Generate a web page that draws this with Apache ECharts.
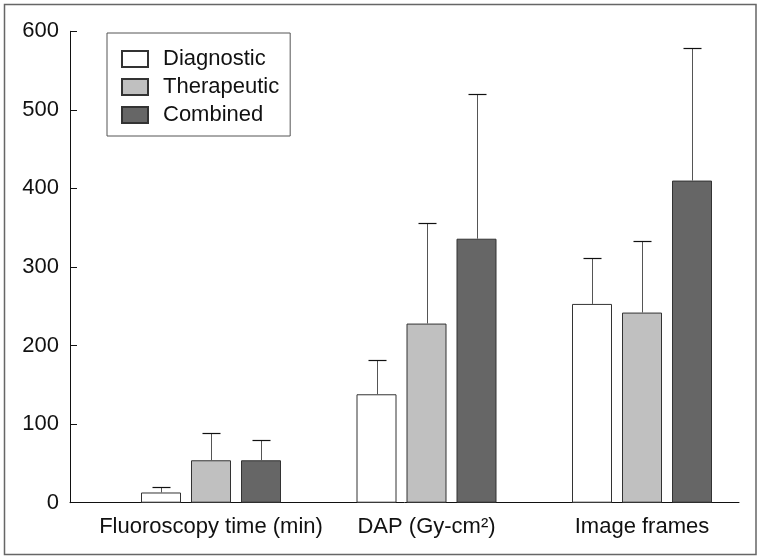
<!DOCTYPE html>
<html>
<head>
<meta charset="utf-8">
<script src="https://cdn.jsdelivr.net/npm/echarts@6/dist/echarts.min.js"></script>
<style>
html,body{margin:0;padding:0;background:#fff;}
#chart{width:762px;height:560px;}
</style>
</head>
<body>
<div id="chart"></div>
<script>
const categories = ['Fluoroscopy time (min)', 'DAP (Gy-cm\u00B2)', 'Image frames'];
const seriesNames = ['Diagnostic', 'Therapeutic', 'Combined'];
const diagnosticMean = [13, 138, 253];
const diagnosticSD = [7, 43, 58];
const therapeuticMean = [54, 228, 242];
const therapeuticSD = [35, 128, 91];
const combinedMean = [54, 336, 410];
const combinedSD = [26, 184, 169];
const yTicks = [0, 100, 200, 300, 400, 500, 600];

const means = [diagnosticMean, therapeuticMean, combinedMean];
const sds = [diagnosticSD, therapeuticSD, combinedSD];
const fills = ['#ffffff', '#c0c0c0', '#666666'];

const FONT = 'Liberation Sans';
const BAR_W = 40;
const BAR_GAP = 0.25;
const TOP = 31.3, BOTTOM = 560 - 502.7;

const chart = echarts.init(document.getElementById('chart'));

const barSeries = seriesNames.map((name, s) => ({
  name: name,
  type: 'bar',
  xAxisIndex: 1,
  yAxisIndex: 1,
  barWidth: BAR_W,
  barGap: (BAR_GAP * 100) + '%',
  itemStyle: { color: fills[s], borderColor: '#333', borderWidth: 1 },
  emphasis: { disabled: true },
  data: means[s],
  z: 2
}));

const errSeries = seriesNames.map((name, s) => ({
  type: 'custom',
  xAxisIndex: 1,
  yAxisIndex: 1,
  z: 3,
  silent: true,
  data: means[s].map((m, i) => [i, m, m + sds[s][i]]),
  encode: { x: 0, y: [1, 2] },
  renderItem: function (params, api) {
    const c = api.value(0), m = api.value(1), u = api.value(2);
    const off = (s - 1) * BAR_W * (1 + BAR_GAP);
    const p0 = api.coord([c, m]);
    const p1 = api.coord([c, u]);
    const x = Math.round(p0[0] + off) + 0.5;
    const yt = Math.round(p1[1]) + 0.5;
    return {
      type: 'group',
      children: [
        { type: 'line', shape: { x1: x, y1: p0[1], x2: x, y2: yt }, style: { stroke: '#555', lineWidth: 1 } },
        { type: 'line', shape: { x1: x - 9, y1: yt, x2: x + 9, y2: yt }, style: { stroke: '#111', lineWidth: 1.2 } }
      ]
    };
  }
}));

const option = {
  animation: false,
  backgroundColor: '#fff',
  textStyle: { fontFamily: FONT },
  graphic: [{
    type: 'rect',
    shape: { x: 4.5, y: 4.5, width: 751.5, height: 550 },
    style: { fill: 'none', stroke: '#666', lineWidth: 1.5 },
    silent: true,
    z: 100
  }],
  legend: {
    orient: 'vertical',
    left: 107,
    top: 33,
    padding: [15, 11, 10, 14],
    itemWidth: 26,
    itemHeight: 16,
    itemGap: 6,
    borderColor: '#555',
    borderWidth: 1,
    selectedMode: false,
    data: seriesNames,
    icon: 'rect',
    textStyle: { fontFamily: FONT, fontSize: 22, color: '#111', padding: [0, 0, 0, 10] }
  },
  grid: [
    { left: 70, right: 23, top: TOP, bottom: BOTTOM, containLabel: false },
    { left: 103.25, width: 646.5, top: TOP, bottom: BOTTOM, containLabel: false }
  ],
  xAxis: [
    {
      type: 'value', gridIndex: 0, min: 0, max: 1,
      axisLine: { show: true, onZero: false, lineStyle: { color: '#111', width: 1 } },
      axisTick: { show: false }, axisLabel: { show: false }, splitLine: { show: false }
    },
    {
      type: 'category', gridIndex: 1, data: categories,
      axisLine: { show: false }, axisTick: { show: false },
      axisLabel: { fontFamily: FONT, fontSize: 22, color: '#111', margin: 13, interval: 0 },
      splitLine: { show: false }
    }
  ],
  yAxis: [
    {
      type: 'value', gridIndex: 0, min: yTicks[0], max: yTicks[yTicks.length - 1], interval: yTicks[1] - yTicks[0],
      axisLine: { show: true, lineStyle: { color: '#111', width: 1 } },
      axisTick: { show: true, inside: true, length: 7, lineStyle: { color: '#111', width: 1 } },
      axisLabel: { fontFamily: FONT, fontSize: 22, color: '#111', margin: 11 },
      splitLine: { show: false }
    },
    {
      type: 'value', gridIndex: 1, min: yTicks[0], max: yTicks[yTicks.length - 1],
      show: false, splitLine: { show: false }
    }
  ],
  series: barSeries.concat(errSeries)
};

chart.setOption(option);
</script>
</body>
</html>
